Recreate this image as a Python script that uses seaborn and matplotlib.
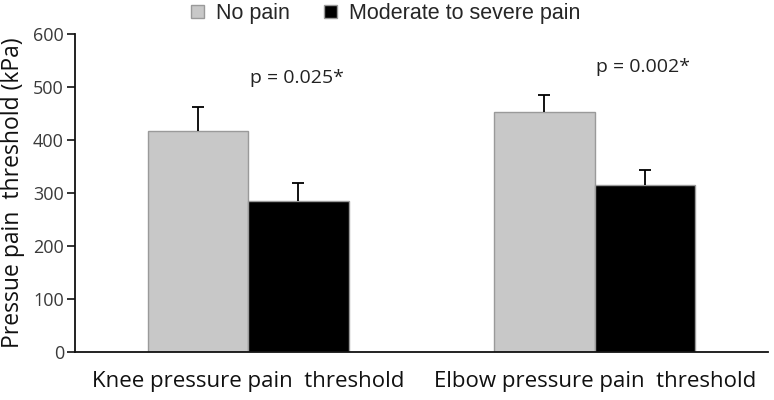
import seaborn as sns
import matplotlib.pyplot as plt
import pandas as pd

groups = ["Knee pressure pain  threshold", "Elbow pressure pain  threshold"]
series = ["No pain", "Moderate to severe pain"]
no_pain = [417, 453]
no_pain_err = [45, 32]
severe = [284, 316]
severe_err = [34, 27]
pvals = ["p = 0.025*", "p = 0.002*"]

df = pd.DataFrame({
    "group": groups * 2,
    "pain": [series[0]] * 2 + [series[1]] * 2,
    "value": no_pain + severe,
})
errs = no_pain_err + severe_err

sns.set_style("white")
plt.rcParams["font.family"] = ["Open Sans", "DejaVu Sans"]

fig = plt.figure(figsize=(7.74, 4.0), dpi=100)
ax = fig.add_axes([0.097, 0.12, 0.895, 0.795])

sns.barplot(data=df, x="group", y="value", hue="pain", order=groups, hue_order=series,
            palette=["#c8c8c8", "#000000"], width=0.58, gap=0, errorbar=None,
            edgecolor="#9a9a9a", linewidth=1, ax=ax)

# error bars, upward only (stem + top cap)
bars = ax.patches[:4]
for b, e in zip(bars, errs):
    x = b.get_x() + b.get_width() / 2
    h = b.get_height()
    ax.errorbar(x, h, yerr=[[0], [e]], fmt="none", ecolor="black", elinewidth=1.3, capsize=0)
    ax.plot([x], [h + e], marker="_", markersize=9, mew=1.3, color="black")

# p-value labels
ax.text(0.14, 517, pvals[0], ha="center", va="center", fontsize=14, color="#222222")
ax.text(1.14, 538, pvals[1], ha="center", va="center", fontsize=14, color="#222222")

ax.set_ylim(0, 600)
ax.set_xlim(-0.5, 1.5)
ax.set_yticks(range(0, 601, 100))
ax.set_xticks([0, 1])
ax.set_xticklabels(groups, fontsize=16, color="#111111")
ax.set_xticks([-0.5, 0.5, 1.5], minor=True)
ax.tick_params(axis="x", which="major", length=0, pad=14)
ax.tick_params(axis="x", which="minor", length=6, width=1.2, direction="out", color="#111111")
ax.tick_params(axis="y", length=6, width=1.2, direction="out", labelsize=13,
               labelcolor="#3a3a3a", color="#111111", left=True, pad=2)
ax.set_xlabel("")
ax.set_ylabel("Pressue pain  threshold (kPa)", fontsize=16.5, color="#111111", labelpad=6)

for s in ["top", "right"]:
    ax.spines[s].set_visible(False)
for s in ["left", "bottom"]:
    ax.spines[s].set_color("#111111")
    ax.spines[s].set_linewidth(1.3)

leg = ax.legend(loc="upper center", bbox_to_anchor=(0.448, 1.158), ncol=2, frameon=False,
                handlelength=0.6, handleheight=0.6, handletextpad=0.55,
                columnspacing=1.6, prop={"family": "Liberation Sans", "size": 15.5})

fig.savefig("out.png", dpi=100)
